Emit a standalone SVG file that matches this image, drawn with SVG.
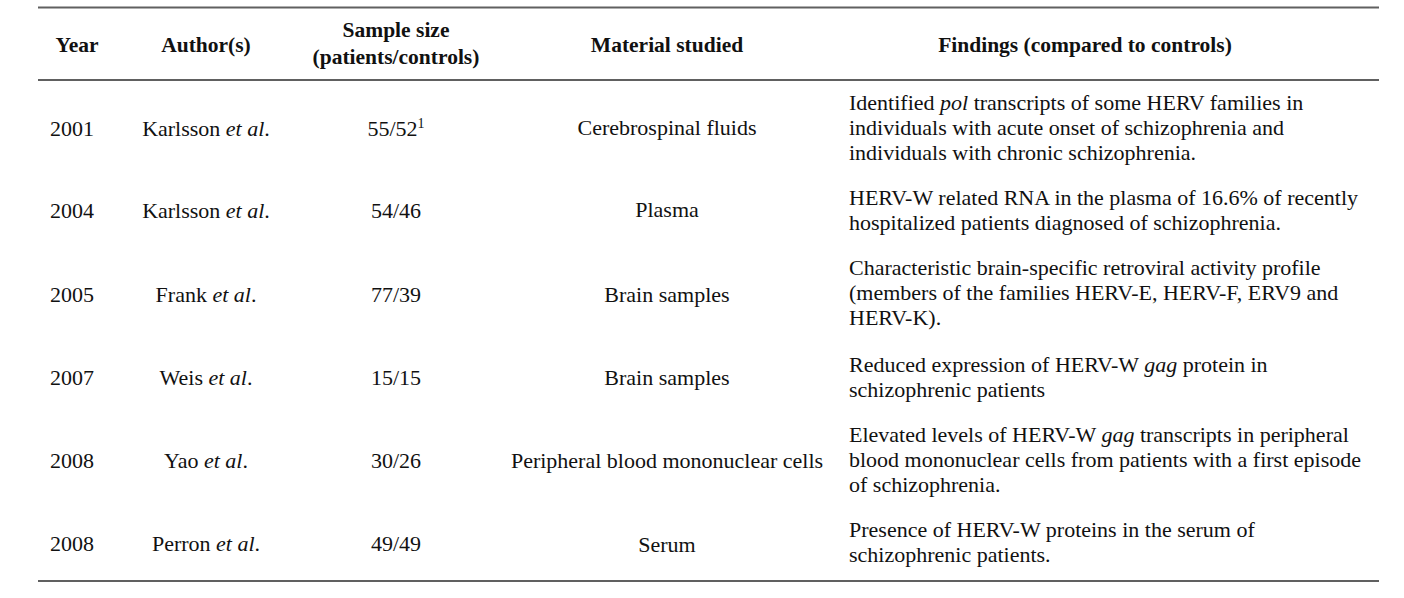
<svg xmlns="http://www.w3.org/2000/svg" width="1404" height="598" viewBox="0 0 1404 598">
<style>
text{font-family:"Liberation Serif","Times New Roman",serif;fill:#111;font-size:22px}
.h{font-weight:bold;font-size:21.5px;text-anchor:middle}
.c{text-anchor:middle}
.i{font-style:italic}
.rule{stroke:#606060;stroke-width:2;fill:none}
</style>
<rect width="1404" height="598" fill="#fff"/>
<g id="rules">
<line class="rule" x1="38" y1="7.5" x2="1379" y2="7.5"/>
<line class="rule" x1="38" y1="80" x2="1379" y2="80"/>
<line class="rule" x1="38" y1="581" x2="1379" y2="581"/>
</g>
<g id="header">
<text class="h" x="77" y="52">Year</text>
<text class="h" x="206" y="52">Author(s)</text>
<text class="h" x="396" y="37">Sample size</text>
<text class="h" x="396" y="64">(patients/controls)</text>
<text class="h" x="667" y="52">Material studied</text>
<text class="h" x="1085" y="52">Findings (compared to controls)</text>
</g>
<g id="row-2001">
<text x="50" y="136">2001</text>
<text class="c" x="206" y="136">Karlsson <tspan class="i">et al</tspan>.</text>
<text class="c" x="396" y="136">55/52<tspan font-size="14" dy="-8">1</tspan></text>
<text class="c" x="667" y="135">Cerebrospinal fluids</text>
<text x="849" y="110">Identified <tspan class="i">pol</tspan> transcripts of some HERV families in</text>
<text x="849" y="135">individuals with acute onset of schizophrenia and</text>
<text x="849" y="160">individuals with chronic schizophrenia.</text>
</g>
<g id="row-2004">
<text x="50" y="218">2004</text>
<text class="c" x="206" y="218">Karlsson <tspan class="i">et al</tspan>.</text>
<text class="c" x="396" y="218">54/46</text>
<text class="c" x="667" y="217">Plasma</text>
<text x="849" y="205">HERV-W related RNA in the plasma of 16.6% of recently</text>
<text x="849" y="230">hospitalized patients diagnosed of schizophrenia.</text>
</g>
<g id="row-2005">
<text x="50" y="302">2005</text>
<text class="c" x="206" y="302">Frank <tspan class="i">et al</tspan>.</text>
<text class="c" x="396" y="302">77/39</text>
<text class="c" x="667" y="302">Brain samples</text>
<text x="849" y="275">Characteristic brain-specific retroviral activity profile</text>
<text x="849" y="300">(members of the families HERV-E, HERV-F, ERV9 and</text>
<text x="849" y="325">HERV-K).</text>
</g>
<g id="row-2007">
<text x="50" y="385">2007</text>
<text class="c" x="206" y="385">Weis <tspan class="i">et al</tspan>.</text>
<text class="c" x="396" y="385">15/15</text>
<text class="c" x="667" y="385">Brain samples</text>
<text x="849" y="372">Reduced expression of HERV-W <tspan class="i">gag</tspan> protein in</text>
<text x="849" y="397">schizophrenic patients</text>
</g>
<g id="row-2008a">
<text x="50" y="468">2008</text>
<text class="c" x="206" y="468">Yao <tspan class="i">et al</tspan>.</text>
<text class="c" x="396" y="468">30/26</text>
<text class="c" x="667" y="468">Peripheral blood mononuclear cells</text>
<text x="849" y="442">Elevated levels of HERV-W <tspan class="i">gag</tspan> transcripts in peripheral</text>
<text x="849" y="467">blood mononuclear cells from patients with a first episode</text>
<text x="849" y="492">of schizophrenia.</text>
</g>
<g id="row-2008b">
<text x="50" y="551">2008</text>
<text class="c" x="206" y="551">Perron <tspan class="i">et al</tspan>.</text>
<text class="c" x="396" y="551">49/49</text>
<text class="c" x="667" y="552">Serum</text>
<text x="849" y="537">Presence of HERV-W proteins in the serum of</text>
<text x="849" y="562">schizophrenic patients.</text>
</g>
</svg>
